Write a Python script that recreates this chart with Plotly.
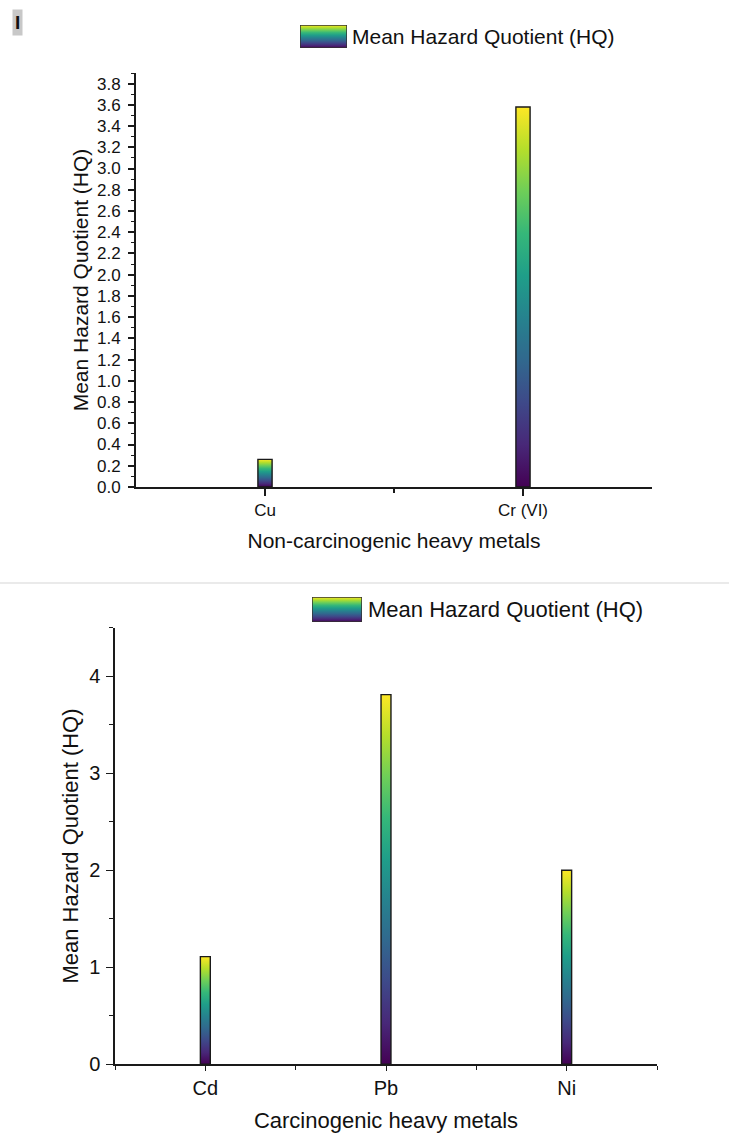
import plotly.graph_objects as go

# ---------------- data ----------------
noncarc_metals = ["Cu", "Cr (VI)"]
noncarc_hq = [0.26, 3.58]

carc_metals = ["Cd", "Pb", "Ni"]
carc_hq = [1.11, 3.81, 2.0]

series_name = "Mean Hazard Quotient (HQ)"

# ---------------- style ----------------
W, H = 729, 1133
FONT = "Liberation Sans, Arial, sans-serif"
BAR_W = 0.055
INK = "#1a1a1a"


def px_x(p):
    return p / W


def px_y(p):
    return 1 - p / H


fig = go.Figure()


def add_bars(cats, vals, xa, ya):
    for i, (c, v) in enumerate(zip(cats, vals)):
        pos = i + 1
        xs = [pos - BAR_W / 2, pos + BAR_W / 2, pos + BAR_W / 2, pos - BAR_W / 2, pos - BAR_W / 2]
        ys = [0, 0, v, v, 0]
        fig.add_trace(go.Scatter(
            x=xs, y=ys, mode="lines", fill="toself",
            fillgradient=dict(type="vertical", colorscale="Viridis"),
            line=dict(color=INK, width=1.4),
            name=series_name, showlegend=False, xaxis=xa, yaxis=ya,
            hovertemplate=c + ": %{y}<extra></extra>",
        ))


add_bars(noncarc_metals, noncarc_hq, "x", "y")
add_bars(carc_metals, carc_hq, "x2", "y2")

# legend swatches (gradient key) drawn on unit axes
for xa, ya in (("x3", "y3"), ("x4", "y4")):
    fig.add_trace(go.Scatter(
        x=[0, 1, 1, 0, 0], y=[0, 0, 1, 1, 0], mode="lines", fill="toself",
        fillgradient=dict(type="vertical", colorscale="Viridis"),
        line=dict(color="#333", width=1.5), showlegend=False, hoverinfo="skip",
        xaxis=xa, yaxis=ya,
    ))

axis_common = dict(showline=True, linecolor=INK, showgrid=False, zeroline=False,
                   ticks="outside", tickcolor=INK, color="#111", automargin=False)
key_axis = dict(visible=False, range=[0, 1], fixedrange=True, automargin=False)

fig.update_layout(
    width=W, height=H,
    margin=dict(l=0, r=0, t=0, b=0, autoexpand=False),
    paper_bgcolor="white", plot_bgcolor="rgba(0,0,0,0)",
    font=dict(family=FONT, color="#111"),
    showlegend=False,
    xaxis=dict(
        **axis_common, domain=[px_x(136), px_x(652)], anchor="y",
        range=[0.5, 2.5], tickmode="array", tickvals=[1, 2], ticktext=noncarc_metals,
        ticklen=7, tickwidth=1.6, linewidth=1.8,
        tickfont=dict(size=17),
        minor=dict(tickvals=[1.5], ticklen=4, ticks="outside", tickcolor=INK, tickwidth=1.6),
        title=dict(text="Non-carcinogenic heavy metals", font=dict(size=21), standoff=14),
    ),
    yaxis=dict(
        **axis_common, domain=[px_y(487), px_y(73)], anchor="x",
        range=[0, 3.9], tick0=0, dtick=0.2, tickformat=".1f",
        ticklen=6, tickwidth=1.6, linewidth=1.8,
        tickfont=dict(size=17), ticklabelstandoff=4,
        minor=dict(dtick=0.1, ticklen=3, ticks="outside", tickcolor=INK, tickwidth=1.4),
        title=dict(text="Mean Hazard Quotient (HQ)", font=dict(size=21), standoff=3),
    ),
    xaxis2=dict(
        **axis_common, domain=[px_x(115), px_x(657)], anchor="y2",
        range=[0.5, 3.5], tickmode="array", tickvals=[1, 2, 3], ticktext=carc_metals,
        ticklen=5, tickwidth=1.4, linewidth=1.5,
        tickfont=dict(size=20), ticklabelstandoff=0,
        minor=dict(tickvals=[0.5, 1.5, 2.5, 3.5], ticklen=4, ticks="outside", tickcolor=INK, tickwidth=1.4),
        title=dict(text="Carcinogenic heavy metals", font=dict(size=22), standoff=15),
    ),
    yaxis2=dict(
        **axis_common, domain=[px_y(1064.3), px_y(627.7)], anchor="x2",
        range=[0, 4.5], tick0=0, dtick=1,
        ticklen=7, tickwidth=1.4, linewidth=1.5,
        tickfont=dict(size=20), ticklabelstandoff=2,
        minor=dict(dtick=0.5, ticklen=4, ticks="outside", tickcolor=INK, tickwidth=1.4),
        title=dict(text="Mean Hazard Quotient (HQ)", font=dict(size=22), standoff=4),
    ),
    xaxis3=dict(**key_axis, domain=[px_x(300), px_x(347)], anchor="y3"),
    yaxis3=dict(**key_axis, domain=[px_y(48), px_y(25)], anchor="x3"),
    xaxis4=dict(**key_axis, domain=[px_x(312), px_x(362)], anchor="y4"),
    yaxis4=dict(**key_axis, domain=[px_y(622), px_y(597)], anchor="x4"),
)

# legend labels
fig.add_annotation(text=series_name, xref="paper", yref="paper", x=px_x(350), y=px_y(37),
                   xanchor="left", yanchor="middle", showarrow=False,
                   font=dict(size=21, color="#111"))
fig.add_annotation(text=series_name, xref="paper", yref="paper", x=px_x(366), y=px_y(609),
                   xanchor="left", yanchor="middle", showarrow=False,
                   font=dict(size=22, color="#111"))

# separator between the two panels
fig.add_shape(type="line", xref="paper", yref="paper", x0=0, x1=1,
              y0=px_y(583), y1=px_y(583), line=dict(color="#e3e3e3", width=1.5))

# panel label
fig.add_annotation(text="<b>I</b>", xref="paper", yref="paper", x=px_x(12), y=px_y(9),
                   xanchor="left", yanchor="top", showarrow=False,
                   font=dict(size=19, color="#111", family=FONT),
                   bgcolor="#c8c8c8", borderpad=2)

fig.write_html("out.html")
